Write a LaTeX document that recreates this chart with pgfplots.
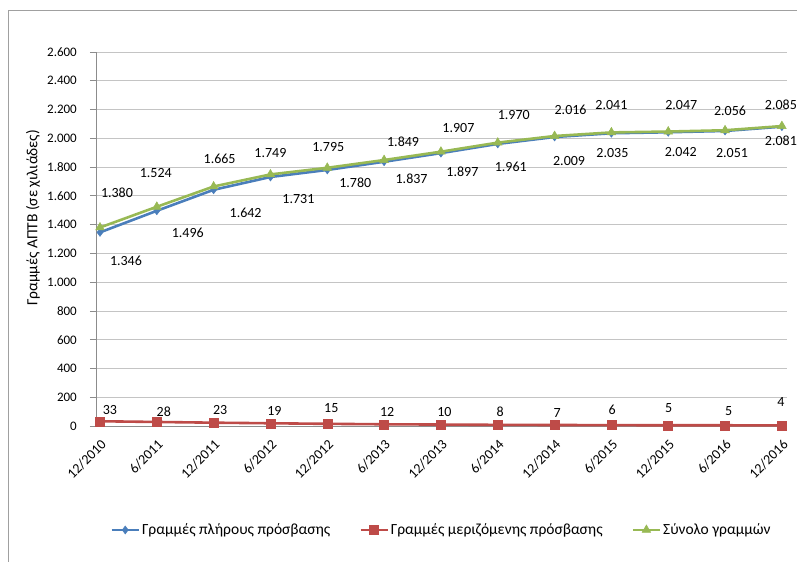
\documentclass[border=0pt]{standalone}
\usepackage{pgfplots}
\pgfplotsset{compat=1.18}
\usepackage{pgfplotstable}
\usepackage{fontspec}
\setmainfont{Carlito}
\definecolor{cblue}{HTML}{4A7EBB}
\definecolor{cred}{HTML}{BE4B48}
\definecolor{cgreen}{HTML}{98B954}
\definecolor{cgrid}{HTML}{C4C4C4}
\definecolor{caxis}{HTML}{8C8C8C}
\definecolor{cframe}{HTML}{A0A0A0}
\newcommand\lbl{\fontsize{14bp}{16bp}\selectfont}
\newcommand\xtk{\fontsize{14bp}{16bp}\selectfont}
\newcommand\tck{\fontsize{13bp}{15bp}\selectfont}
\newcommand\bigtxt{\fontsize{15.5bp}{18bp}\selectfont}

\pgfplotstableread{
x y dx dy
0 1346 26 -28
1 1496 31 -22
2 1642 32 -23
3 1731 28 -22
4 1780 28 -13.3
5 1837 27.5 -16.6
6 1897 21.5 -18.6
7 1961 13 -23
8 2009 14.5 -23.7
9 2035 1 -19.4
10 2042 12.5 -19.4
11 2051 7 -22.3
12 2081 -1 -14
}\full

\pgfplotstableread{
x y dx dy
0 33 10 11
1 28 7 10
2 23 6.5 13
3 19 4 12.6
4 15 4 15.5
5 12 3 12.6
6 10 3.5 13
7 8 2.5 13
8 7 2.5 11.7
9 6 0.7 15.8
10 5 0.5 17
11 5 3.6 14.6
12 4 -1 23.7
}\shared

\pgfplotstableread{
x y dx dy
0 1380 17 35
1 1524 -1 33.5
2 1665 6 28
3 1749 0 21
4 1795 1 20.5
5 1849 19 18
6 1907 17.5 24
7 1970 16 27.5
8 2016 16 26
9 2041 0 27
10 2047 13 26.5
11 2056 5 19.5
12 2085 -1 21
}\total

\pgfplotsset{
  lbls/.style={
    visualization depends on={\thisrow{dx}\as\myDX},
    visualization depends on={\thisrow{dy}\as\myDY},
    nodes near coords,
    every node near coord/.append style={anchor=center, xshift=\myDX bp, yshift=\myDY bp, font=\lbl, text=black, inner sep=0pt},
  },
}

\begin{document}
\begin{tikzpicture}
\useasboundingbox (0,0) rectangle (797bp,562bp);
\draw[cframe, line width=0.8bp] (8bp,-10bp) -- (8bp,552bp) -- (810bp,552bp);
\begin{axis}[
  at={(96bp,136bp)}, anchor=south west,
  scale only axis, width=691bp, height=374bp,
  xmin=-0.07, xmax=12.09,
  ymin=0, ymax=2600,
  ytick={0,200,...,2600},
  xtick={0,...,12},
  xticklabels={12/2010,6/2011,12/2011,6/2012,12/2012,6/2013,12/2013,6/2014,12/2014,6/2015,12/2015,6/2016,12/2016},
  axis x line*=bottom, axis y line*=left,
  axis line style={caxis, line width=0.8bp, -},
  ymajorgrids, major grid style={cgrid, line width=0.8bp},
  ytick style={caxis, line width=0.8bp}, ytick align=outside, major tick length=6bp,
  xtick style={draw=none},
  /pgf/number format/1000 sep={.},
  /pgf/number format/assume math mode=true,
  yticklabel style={font=\tck, inner sep=0pt, xshift=-13bp},
  xticklabel shift=12.5bp,
  xticklabel style={font=\xtk, inner sep=0pt, rotate=45, anchor=north east},
  ylabel={Γραμμές ΑΠΤΒ (σε χιλιάδες)},
  every axis y label/.style={at={(axis description cs:-0.0912,0.556)}, rotate=90, anchor=center, font=\bigtxt},
  clip=false,
  legend columns=3,
  legend style={at={(axis description cs:0.5,-0.278)}, anchor=center, draw=none, fill=none, font=\bigtxt,
    /tikz/every even column/.append style={column sep=27bp}},
  legend cell align=left,
  legend image code/.code={\draw[mark repeat=2, mark phase=2] plot coordinates {(0bp,0bp) (13.5bp,0bp) (27bp,0bp)};},
]
\addplot[cblue, line width=2.6bp, mark=diamond*, mark size=4bp, mark options={solid, fill=cblue, draw=cblue, line width=0.5bp}, lbls] table[x=x,y=y] {\full};
\addlegendentry{Γραμμές πλήρους πρόσβασης}
\addplot[cred, line width=2.6bp, mark=square*, mark size=4.5bp, mark options={solid, fill=cred, draw=cred, line width=0.5bp}, lbls] table[x=x,y=y] {\shared};
\addlegendentry{Γραμμές μεριζόμενης πρόσβασης}
\addplot[cgreen, line width=2.6bp, mark=triangle*, mark size=5bp, mark options={solid, fill=cgreen, draw=cgreen, line width=0.5bp}, lbls] table[x=x,y=y] {\total};
\addlegendentry{Σύνολο γραμμών}
\end{axis}
\end{tikzpicture}
\end{document}
